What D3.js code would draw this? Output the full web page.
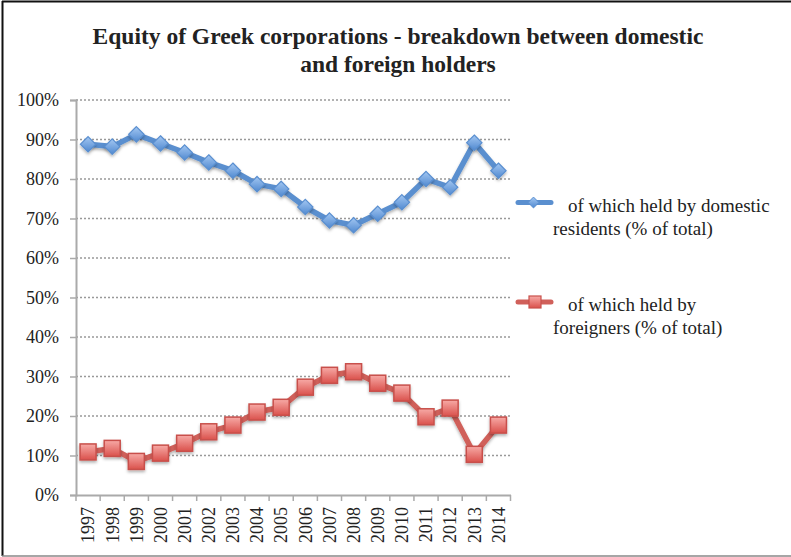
<!DOCTYPE html>
<html>
<head>
<meta charset="utf-8">
<script src="https://cdn.jsdelivr.net/npm/d3@7"></script>
<style>
  body { margin: 0; background: #fff; }
  text { font-family: "Liberation Serif", "DejaVu Serif", serif; fill: #222; }
</style>
</head>
<body>
<div id="chart"></div>
<script>
// data
const years = ["1997","1998","1999","2000","2001","2002","2003","2004","2005",
               "2006","2007","2008","2009","2010","2011","2012","2013","2014"]
const domestic = [88.8, 88.2, 91.3, 89.0, 86.7, 84.2, 82.1, 78.7, 77.5,
                  72.9, 69.5, 68.3, 71.2, 74.1, 80.0, 77.9, 89.2, 82.1]
const foreign = [10.9, 11.8, 8.5, 10.6, 13.1, 16.0, 17.7, 21.0, 22.2,
                 27.3, 30.3, 31.2, 28.3, 25.8, 19.8, 22.0, 10.3, 17.7]
const yTicks = [0, 10, 20, 30, 40, 50, 60, 70, 80, 90, 100]

const serif = '"Liberation Serif", "DejaVu Serif", serif'
const width = 791, height = 557
const plotLeft = 76, plotRight = 510.5, plotTop = 100, plotBottom = 495

const svg = d3.select("#chart").append("svg")
  .attr("width", width)
  .attr("height", height)

const defs = svg.append("defs")
const gBlue = defs.append("linearGradient").attr("id", "gblue").attr("x1", 0).attr("y1", 0).attr("x2", 0).attr("y2", 1)
gBlue.append("stop").attr("offset", "0%").attr("stop-color", "#a3c7f2")
gBlue.append("stop").attr("offset", "100%").attr("stop-color", "#5089d0")
const gRed = defs.append("linearGradient").attr("id", "gred").attr("x1", 0).attr("y1", 0).attr("x2", 0).attr("y2", 1)
gRed.append("stop").attr("offset", "0%").attr("stop-color", "#f7aaa6")
gRed.append("stop").attr("offset", "100%").attr("stop-color", "#da514c")
const shadow = defs.append("filter").attr("id", "shadow").attr("x", "-50%").attr("y", "-50%").attr("width", "200%").attr("height", "200%")
shadow.append("feDropShadow").attr("dx", 0).attr("dy", 2).attr("stdDeviation", 1.5)
  .attr("flood-color", "#000").attr("flood-opacity", 0.3)

// frame
svg.append("line").attr("x1", 2).attr("x2", width).attr("y1", 1.5).attr("y2", 1.5)
  .attr("stroke", "#111").attr("stroke-width", 2)
svg.append("line").attr("x1", 2.5).attr("x2", 2.5).attr("y1", 1).attr("y2", 556)
  .attr("stroke", "#111").attr("stroke-width", 2)
svg.append("line").attr("x1", 2).attr("x2", width).attr("y1", 556).attr("y2", 556)
  .attr("stroke", "#888").attr("stroke-width", 1.5)

// title
const title = svg.append("text")
  .attr("text-anchor", "middle")
  .style("font-family", serif)
  .style("font-size", "23.5px")
  .style("font-weight", "bold")
title.append("tspan").attr("x", 398).attr("y", 44).text("Equity of  Greek corporations - breakdown between domestic")
title.append("tspan").attr("x", 398).attr("y", 72).text("and foreign holders")

const x = d3.scaleBand().domain(years).range([plotLeft, plotRight])
const y = d3.scaleLinear().domain([0, 100]).range([plotBottom, plotTop])

// gridlines
svg.append("g").selectAll("line")
  .data(yTicks.filter(d => d > 0))
  .join("line")
    .attr("x1", plotLeft).attr("x2", plotRight)
    .attr("y1", d => y(d)).attr("y2", d => y(d))
    .attr("stroke", "#999")
    .attr("stroke-width", 1.3)
    .attr("stroke-dasharray", "2,2")

// y axis
const yAxis = svg.append("g")
  .attr("transform", `translate(${plotLeft},0)`)
  .call(d3.axisLeft(y).tickValues(yTicks).tickFormat(d => d + "%").tickSize(6).tickPadding(11))
yAxis.select(".domain").attr("stroke", "#aaa").attr("stroke-width", 2)
yAxis.selectAll(".tick line").attr("stroke", "#aaa").attr("stroke-width", 1.5)
yAxis.selectAll("text").style("font-size", "18px").attr("fill", "#222")
  .style("font-family", serif)

// x axis
const xAxis = svg.append("g")
  .attr("transform", `translate(0,${plotBottom})`)
  .call(d3.axisBottom(x).tickSize(0).tickPadding(0))
xAxis.select(".domain").attr("stroke", "#aaa").attr("stroke-width", 2)
xAxis.selectAll(".tick text")
  .attr("transform", "rotate(-90)")
  .attr("text-anchor", "end")
  .attr("x", -12)
  .attr("y", 0)
  .attr("dy", "0.35em")
  .style("font-size", "18px")
  .attr("fill", "#222")
  .style("font-family", serif)
// tick marks between categories
xAxis.selectAll(".sep")
  .data(d3.range(years.length + 1))
  .join("line")
    .attr("class", "sep")
    .attr("x1", i => plotLeft + i * x.step()).attr("x2", i => plotLeft + i * x.step())
    .attr("y1", 0).attr("y2", 6)
    .attr("stroke", "#aaa").attr("stroke-width", 1.5)

const cx = (d, i) => x(years[i]) + x.bandwidth() / 2
const line = d3.line().x((d, i) => cx(d, i)).y(d => y(d))

const diamond = d3.symbol().type(d3.symbolDiamond2).size(150)
const smallDiamond = d3.symbol().type(d3.symbolDiamond2).size(75)

function drawSeries(vals, color, fill, marker) {
  const g = svg.append("g")
  g.append("path")
    .datum(vals)
    .attr("d", line)
    .attr("fill", "none")
    .attr("stroke", color)
    .attr("stroke-width", 5.5)
    .attr("stroke-linejoin", "round")
    .attr("filter", "url(#shadow)")
  if (marker === "diamond") {
    g.selectAll("path.m").data(vals).join("path")
      .attr("class", "m")
      .attr("d", diamond)
      .attr("transform", (d, i) => `translate(${cx(d, i)},${y(d)})`)
      .attr("fill", fill)
      .attr("stroke", "#5a8fd0")
      .attr("stroke-width", 1.2)
      .attr("filter", "url(#shadow)")
  } else {
    g.selectAll("rect.m").data(vals).join("rect")
      .attr("class", "m")
      .attr("x", (d, i) => cx(d, i) - 8)
      .attr("y", d => y(d) - 8)
      .attr("width", 16).attr("height", 16)
      .attr("fill", fill)
      .attr("stroke", "#c8504b")
      .attr("stroke-width", 1.5)
      .attr("filter", "url(#shadow)")
  }
}

drawSeries(domestic, "#5a8fcf", "url(#gblue)", "diamond")
drawSeries(foreign, "#d0605a", "url(#gred)", "square")

// legend
const legend = [
  { lines: ["of which held by domestic", "residents (% of total)"], y: 202.5, color: "#5a8fcf", fill: "url(#gblue)", marker: "diamond" },
  { lines: ["of which held by", "foreigners (% of total)"], y: 302, color: "#d0605a", fill: "url(#gred)", marker: "square" }
]
legend.forEach(l => {
  const g = svg.append("g")
  g.append("line").attr("x1", 518).attr("x2", 551).attr("y1", l.y).attr("y2", l.y)
    .attr("stroke", l.color).attr("stroke-width", 5).attr("stroke-linecap", "round")
  if (l.marker === "diamond") {
    g.append("path").attr("d", smallDiamond).attr("transform", `translate(533.5,${l.y})`)
      .attr("fill", l.fill).attr("stroke", "#5a8fd0").attr("stroke-width", 1)
  } else {
    g.append("rect").attr("x", 529).attr("y", l.y - 6).attr("width", 12).attr("height", 12)
      .attr("fill", l.fill).attr("stroke", "#c8504b").attr("stroke-width", 1.2)
  }
  const t = g.append("text").style("font-size", "19px").style("font-family", serif)
  t.append("tspan").attr("x", 568).attr("y", l.y + 9).text(l.lines[0])
  t.append("tspan").attr("x", 553).attr("y", l.y + 32).text(l.lines[1])
})
</script>
</body>
</html>
